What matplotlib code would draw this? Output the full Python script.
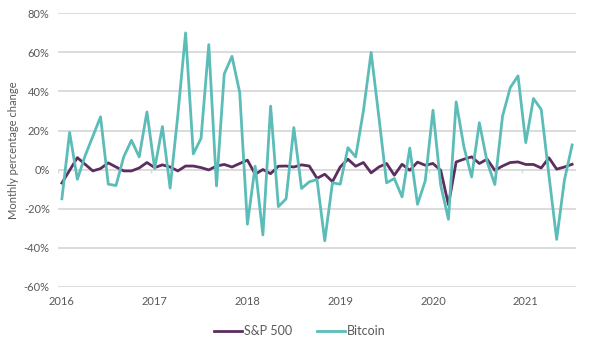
import matplotlib
matplotlib.use("Agg")
import matplotlib.pyplot as plt
import numpy as np
from matplotlib.ticker import FuncFormatter, FixedLocator

years = ["2016", "2017", "2018", "2019", "2020", "2021"]

bitcoin = [
    -15, 19, -5, 7, 17, 27, -7.5, -8.2, 6.5, 15, 6.5, 29.5,
    0.5, 22, -9.5, 28, 70, 8, 16, 64, -8.4, 49, 58, 39.5,
    -28, 1.7, -33.5, 32.5, -19, -15, 21.5, -9.7, -6.3, -5.1, -36.5, -6.8,
    -7.5, 11.2, 6.5, 30, 60, 27, -6.8, -4.6, -14, 11, -17.8, -5.8,
    30.4, -8, -25.5, 34.7, 11.6, -3.8, 24, 4, -7.7, 27.4, 42, 48,
    13.8, 36.4, 30.8, -3, -35.8, -5.5, 12.6,
]

sp500 = [
    -6.9, -0.4, 6.1, 2.7, -0.7, 0.5, 3.4, 1.3, -0.7, -0.7, 0.8, 3.6,
    1.0, 2.4, 1.3, -0.7, 1.8, 1.8, 1.0, -0.2, 1.8, 2.6, 1.3, 3.1,
    4.8, -2.4, 0.0, -2.1, 1.7, 1.8, 1.3, 2.4, 1.8, -4.5, -2.4, -6.2,
    1.3, 5.3, 1.7, 3.6, -1.7, 1.3, 3.1, -2.9, 2.7, -0.4, 3.8, 2.2,
    3.1, -0.4, -18, 3.9, 5.3, 6.5, 3.1, 5.3, -0.4, 1.8, 3.6, 3.9,
    2.6, 2.6, 0.8, 6.0, 0.2, 1.3, 2.7,
]

plt.rcParams['font.family'] = ['Lato', 'DejaVu Sans']

fig = plt.figure(figsize=(6.0, 3.53), dpi=100)
ax = fig.add_axes([0.0967, 0.188, 0.8633, 0.774])

x = np.arange(len(bitcoin))
grid_c = "#d9d9d9"
text_c = "#595959"

ax.set_ylim(-60, 80)
ax.set_xlim(-0.5, len(bitcoin) - 0.5)
ax.yaxis.set_major_locator(FixedLocator(np.arange(-60, 81, 20)))
ax.yaxis.set_major_formatter(FuncFormatter(lambda v, p: f"{int(v)}%"))
ax.grid(axis="y", color=grid_c, linewidth=1.3)
ax.set_axisbelow(True)
for s in ax.spines.values():
    s.set_visible(False)

# category tick marks at year boundaries on the zero line
bounds = np.arange(0, len(bitcoin) + 1, 12) - 0.5
ax.vlines(bounds, -1.8, 0, color=grid_c, linewidth=1.0, zorder=1)

ax.set_xticks(np.arange(0, len(bitcoin), 12))
ax.set_xticklabels(years)
ax.tick_params(axis="both", length=0, labelsize=8, colors=text_c)
ax.tick_params(axis="x", pad=7)
ax.tick_params(axis="y", pad=6)

ax.plot(x, sp500, color="#5e2d5f", linewidth=2.0, label="S&P 500", zorder=3)
ax.plot(x, bitcoin, color="#5bbcb8", linewidth=2.0, label="Bitcoin", zorder=3)

ax.set_ylabel("Monthly percentage change", fontsize=8, color=text_c)
ax.yaxis.set_label_coords(-0.075, 0.5)

leg = fig.legend(loc="center", bbox_to_anchor=(0.5, 0.062), ncol=2, frameon=False,
                 fontsize=9, handlelength=2.2, handletextpad=0.2, columnspacing=2.0)
for t in leg.get_texts():
    t.set_color(text_c)

fig.savefig("out.png", dpi=100)
